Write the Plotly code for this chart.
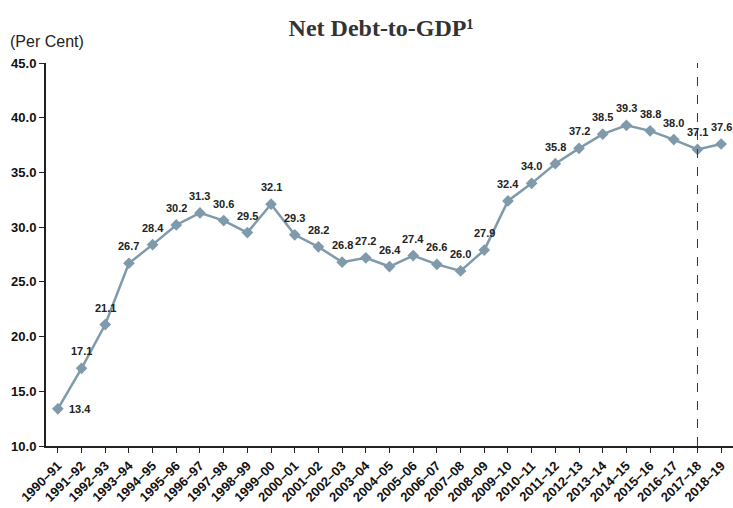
import plotly.graph_objects as go

years = ["1990–91","1991–92","1992–93","1993–94","1994–95","1995–96","1996–97","1997–98",
         "1998–99","1999–00","2000–01","2001–02","2002–03","2003–04","2004–05","2005–06",
         "2006–07","2007–08","2008–09","2009–10","2010–11","2011–12","2012–13","2013–14",
         "2014–15","2015–16","2016–17","2017–18","2018–19"]
values = [13.4, 17.1, 21.1, 26.7, 28.4, 30.2, 31.3, 30.6, 29.5, 32.1, 29.3, 28.2, 26.8, 27.2,
          26.4, 27.4, 26.6, 26.0, 27.9, 32.4, 34.0, 35.8, 37.2, 38.5, 39.3, 38.8, 38.0, 37.1, 37.6]
y_ticks = [10, 15, 20, 25, 30, 35, 40, 45]
divider_year = "2017–18"

narrow = "Liberation Sans Narrow, Arial Narrow, Liberation Sans"

fig = go.Figure()
fig.add_trace(go.Scatter(
    x=years, y=values, mode="lines+markers",
    line=dict(color="#7f9aaa", width=2.5),
    marker=dict(symbol="diamond", size=9, color="#7f9aaa"),
    showlegend=False,
))

annotations = []
for i, (yr, v) in enumerate(zip(years, values)):
    if i == 0:
        xs, ys, xa = 9, 0, "left"
    else:
        xs, ys, xa = 0, 17, "center"
    annotations.append(dict(x=yr, y=v, xref="x", yref="y", text=f"{v:.1f}", showarrow=False,
                            xshift=xs, yshift=ys, xanchor=xa, yanchor="middle",
                            font=dict(family=narrow, size=11, color="#222222", weight="bold")))
annotations.append(dict(text="(Per Cent)", xref="paper", yref="paper", x=-0.055, y=1.055,
                        xanchor="left", yanchor="middle", showarrow=False,
                        font=dict(family="Liberation Sans, Arial", size=16, color="#222222")))

fig.add_shape(type="line", xref="x", yref="paper", x0=divider_year, x1=divider_year, y0=0, y1=1,
              line=dict(color="#333333", width=1, dash="dash"))

fig.update_layout(
    width=733, height=508,
    margin=dict(l=46, r=0, t=63, b=62),
    plot_bgcolor="white", paper_bgcolor="white",
    title=dict(text="Net Debt-to-GDP¹", x=0.52, xanchor="center", y=0.945, yanchor="middle",
               font=dict(family="Liberation Serif, DejaVu Serif, serif", size=24, color="#333333", weight="bold")),
    annotations=annotations,
)
fig.update_xaxes(
    type="category", range=[-0.5, len(years) - 0.5],
    showline=True, linecolor="#222222", linewidth=2,
    ticks="outside", ticklen=5, tickcolor="#222222",
    tickangle=-45, showgrid=False,
    tickfont=dict(family=narrow, size=13, color="#111111", weight="bold"),
)
fig.update_yaxes(
    range=[10, 45], tickvals=y_ticks, tickformat=".1f",
    showline=True, linecolor="#222222", linewidth=2,
    ticks="outside", ticklen=5, tickcolor="#222222", showgrid=False, zeroline=False,
    tickfont=dict(family=narrow, size=13, color="#111111", weight="bold"),
)

fig.write_html("out.html")
